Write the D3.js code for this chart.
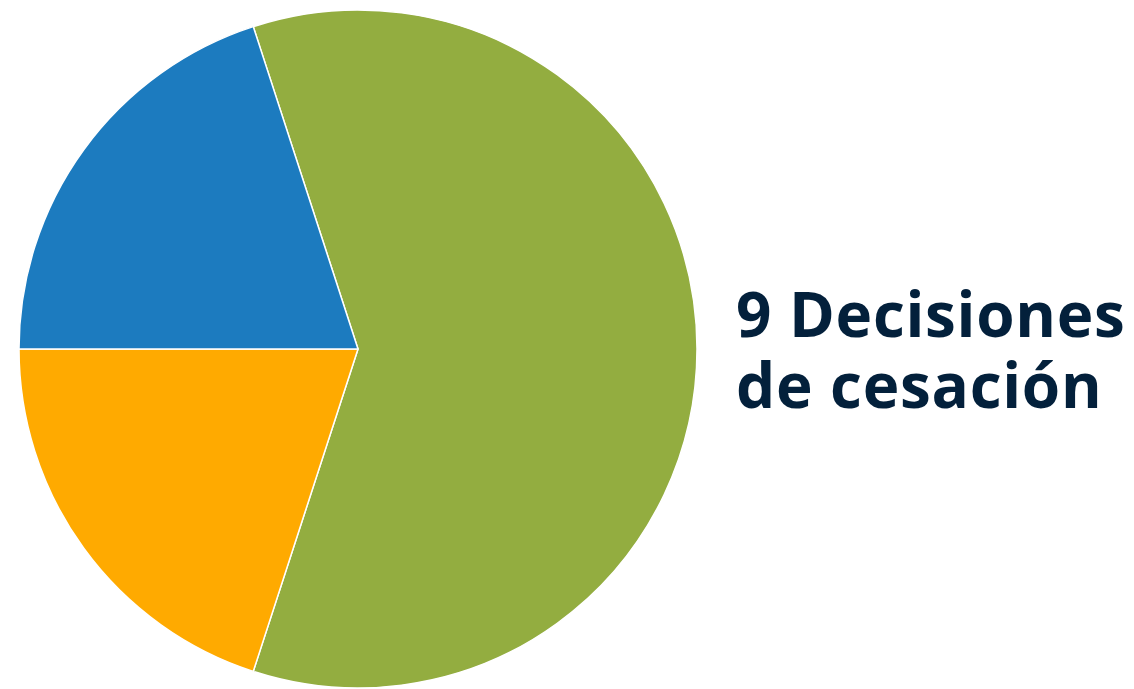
<!DOCTYPE html>
<html>
<head>
<meta charset="utf-8">
<script src="https://cdn.jsdelivr.net/npm/d3@7"></script>
<style>
  html, body { margin: 0; padding: 0; background: #fff; }
  svg { display: block; }
</style>
</head>
<body>
<svg id="chart" width="1134" height="689"></svg>
<script>
// Share of the cessation decisions by group
const categories = ["Grupo A", "Grupo B", "Grupo C"];
const values = [60, 20, 20];
const colors = ["#93ad40", "#ffaa00", "#1c7bbf"];
const titleLines = ["9 Decisiones", "de cesación"];

const svg = d3.select("#chart");
const cx = 358, cy = 349, radius = 339;

const color = d3.scaleOrdinal().domain(categories).range(colors);

const pie = d3.pie()
  .sort(null)
  .value(d => d.value)
  .startAngle(-0.1 * Math.PI)
  .endAngle(1.9 * Math.PI);

const arc = d3.arc().innerRadius(0).outerRadius(radius);

const data = categories.map((c, i) => ({ category: c, value: values[i] }));

svg.append("g")
  .attr("transform", `translate(${cx},${cy})`)
  .selectAll("path")
  .data(pie(data))
  .join("path")
  .attr("d", arc)
  .attr("fill", d => color(d.data.category))
  .attr("stroke", "#ffffff")
  .attr("stroke-width", 1.5)
  .attr("stroke-linejoin", "round");

// Title, one text element per line
svg.append("g")
  .selectAll("text")
  .data(titleLines)
  .join("text")
  .attr("x", 736)
  .attr("y", (d, i) => 337 + i * 71)
  .attr("font-family", "'Open Sans', sans-serif")
  .attr("font-weight", 700)
  .attr("font-size", 62)
  .attr("letter-spacing", 0.7)
  .attr("fill", "#03203b")
  .text(d => d);
</script>
</body>
</html>
